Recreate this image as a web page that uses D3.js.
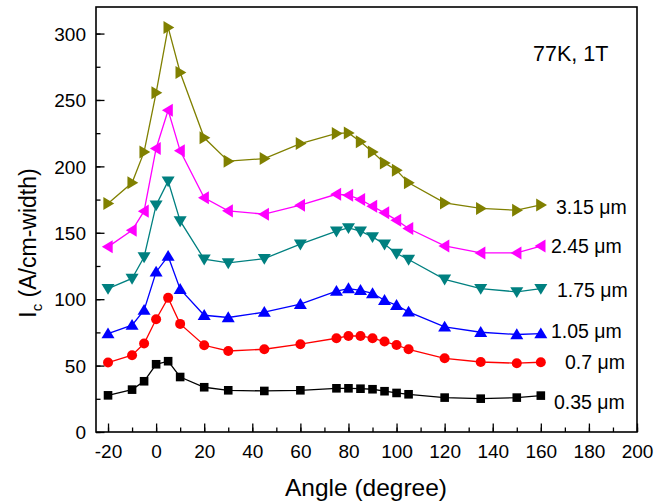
<!DOCTYPE html>
<html><head><meta charset="utf-8">
<script src="https://cdn.jsdelivr.net/npm/d3@7"></script>
<style>body{margin:0;background:#fff}svg{display:block;font-family:Arial,"Liberation Sans",sans-serif}</style>
</head><body><svg id="c" width="666" height="503"></svg>
<script>
const angles = [-20,-10,-5,0,5,10,20,30,45,60,75,80,85,90,95,100,105,120,135,150,160];
const s035 = [27.6,31.9,38.2,51,53.3,41.4,33.7,31.4,30.9,31.4,32.9,32.9,32.6,32.2,30.7,29.4,28.4,25.9,25.1,25.9,27.4];
const s070 = [52.3,57.8,66.6,84.9,101,81.4,65.3,61,62.3,66.1,70.6,72.3,72.3,70.6,68.1,65.5,62.3,55.5,52.7,51.8,52.5];
const s105 = [74.1,80.4,91.7,120.5,132.4,107.5,87.9,86.2,90.2,96.2,106,108,106.7,104.3,99.2,95.4,90.4,79.1,75.1,73.4,74];
const s175 = [108,115.6,131.8,170.8,188.9,158.9,130.1,127.3,130.6,141.4,151.2,153.7,151.2,146.9,141.4,134.4,129.9,115,108,105.5,108];
const s245 = [139.4,151.9,166.3,213.5,242.3,211.7,176.3,166.5,164,170.8,179,178.3,175,170,165,159.5,153.2,140.1,134.8,134.8,140];
const s315 = [172,187.6,210.9,255.4,304.6,270.7,221.5,203.9,205.9,217.2,224.8,225.2,218.5,210.9,202.6,197.1,187.6,172.5,168.3,167,171];
const seriesNames = ["0.35 \u03bcm","0.7 \u03bcm","1.05 \u03bcm","1.75 \u03bcm","2.45 \u03bcm","3.15 \u03bcm"];
const seriesValues = [s035,s070,s105,s175,s245,s315];
const seriesColors = ["#000000","#ff0000","#0000ff","#008080","#ff00ff","#808000"];
const seriesSymbols = ["square","circle","up","down","left","right"];
const xTicks = [-20,0,20,40,60,80,100,120,140,160,180,200];
const yTicks = [0,50,100,150,200,250,300];
const annotation = "77K, 1T";

const svg = d3.select("#c");
const L=96, R=637, T=7, B=432;
const x = d3.scaleLinear().domain([-25,200]).range([L,R]);
const y = d3.scaleLinear().domain([0,320]).range([B,T]);
const fmt = d => String(d);

// axes (ticks inward)
const xMinor = d3.range(-20,201,10);
const yMinor = d3.range(0,320,25);
const gx = svg.append("g").attr("transform",`translate(0,${B})`);
gx.call(d3.axisBottom(x).tickValues(xMinor).tickSize(-4.5).tickFormat(""));
gx.call(g=>g.select(".domain").remove());
const gx2 = svg.append("g").attr("transform",`translate(0,${B})`);
gx2.call(d3.axisBottom(x).tickValues(xTicks).tickSize(-8.5).tickPadding(0).tickFormat(fmt));
gx2.select(".domain").remove();
gx2.selectAll("text").attr("y",25.5).attr("dy",null).style("font-size","19px").attr("fill","#000");
const gy = svg.append("g").attr("transform",`translate(${L},0)`);
gy.call(d3.axisLeft(y).tickValues(yMinor).tickSize(-4.5).tickFormat(""));
gy.select(".domain").remove();
const gy2 = svg.append("g").attr("transform",`translate(${L},0)`);
gy2.call(d3.axisLeft(y).tickValues(yTicks).tickSize(-8.5).tickPadding(0).tickFormat(fmt));
gy2.select(".domain").remove();
gy2.selectAll("text").attr("x",-10).attr("dy","0.35em").style("font-size","19px").attr("fill","#000");
svg.selectAll(".tick line").attr("stroke","#000").attr("stroke-width",1.3);

svg.append("rect").attr("x",L).attr("y",T).attr("width",R-L).attr("height",B-T)
  .attr("fill","none").attr("stroke","#000").attr("stroke-width",1.6);

// series
const line = d3.line().x((d,i)=>x(angles[i])).y(d=>y(d));
function symPath(t){
  const s=6.2;
  if(t==="up") return `M0,${-s}L${s*1.05},${s*0.75}L${-s*1.05},${s*0.75}Z`;
  if(t==="down") return `M0,${s}L${s*1.05},${-s*0.75}L${-s*1.05},${-s*0.75}Z`;
  if(t==="left") return `M${-s},0L${s*0.75},${-s*1.05}L${s*0.75},${s*1.05}Z`;
  if(t==="right") return `M${s},0L${-s*0.75},${-s*1.05}L${-s*0.75},${s*1.05}Z`;
  return null;
}
seriesValues.forEach((vals,k)=>{
  const col=seriesColors[k];
  const g=svg.append("g");
  g.append("path").attr("d",line(vals)).attr("fill","none").attr("stroke",col).attr("stroke-width",1.3);
  const pts=g.selectAll("m").data(vals).enter();
  const t=seriesSymbols[k];
  if(t==="square"){
    pts.append("rect").attr("x",(d,i)=>x(angles[i])-4.3).attr("y",d=>y(d)-4.3).attr("width",8.6).attr("height",8.6).attr("fill",col);
  } else if(t==="circle"){
    pts.append("circle").attr("cx",(d,i)=>x(angles[i])).attr("cy",d=>y(d)).attr("r",5).attr("fill",col);
  } else {
    pts.append("path").attr("transform",(d,i)=>`translate(${x(angles[i])},${y(d)})`).attr("d",symPath(t)).attr("fill",col);
  }
});

// series labels
const labelPos = [[554,402],[565,362],[551,331],[557,290],[551,246],[556,207]];
seriesNames.forEach((n,k)=>{
  svg.append("text").attr("x",labelPos[k][0]).attr("y",labelPos[k][1]).attr("dy","0.35em")
    .style("font-size","19.5px").attr("fill","#000").text(n);
});
svg.append("text").attr("x",533).attr("y",61).style("font-size","21.5px").attr("fill","#000").text(annotation);

// axis titles
svg.append("text").attr("x",366).attr("y",496).attr("text-anchor","middle").style("font-size","24.5px").attr("fill","#000").text("Angle (degree)");
const yt = svg.append("text").attr("transform","translate(36,243) rotate(-90)").attr("text-anchor","middle").style("font-size","23px").attr("fill","#000");
yt.append("tspan").text("I");
yt.append("tspan").attr("dy",6).style("font-size","15px").text("c");
yt.append("tspan").attr("dy",-6).text(" (A/cm-width)");
</script></body></html>
